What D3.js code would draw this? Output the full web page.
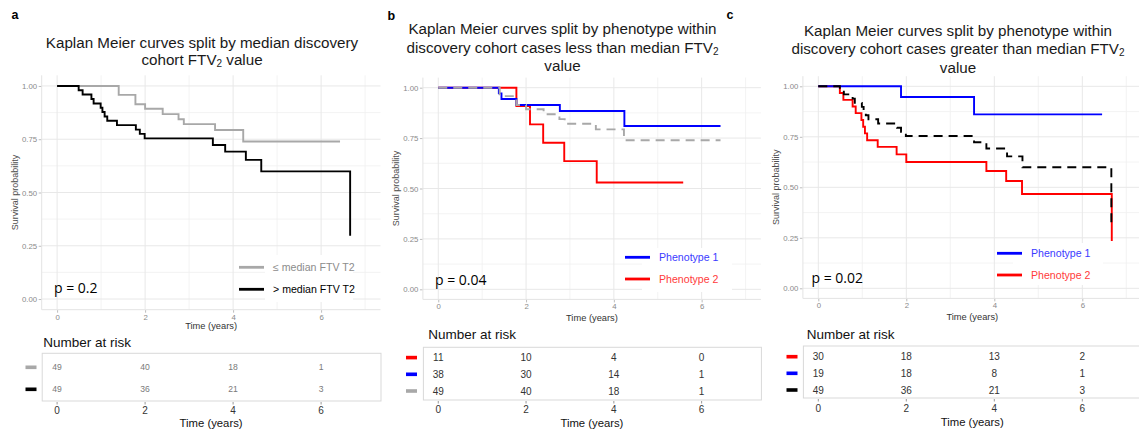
<!DOCTYPE html>
<html><head><meta charset="utf-8">
<script src="https://cdn.jsdelivr.net/npm/d3@7"></script>
<style>
html,body{margin:0;padding:0;background:#fff;}
svg{display:block;font-family:"Liberation Sans",Arial,sans-serif;}
</style></head>
<body>
<svg id="chart" width="1139" height="432"></svg>
<script>
// ---------- data ----------
const timeTicks = [0, 2, 4, 6];
const timeMinor = [1, 3, 5, 7];
const survTicks = [0, 0.25, 0.5, 0.75, 1];
const survMinor = [0.125, 0.375, 0.625, 0.875];

// <= median FTV T2 (all lower cases)
const belowTime = [0, 1.40, 1.78, 2.00, 2.40, 2.76, 2.88, 3.59, 4.23, 6.43];
const belowSurv = [1, 0.958, 0.914, 0.893, 0.868, 0.844, 0.821, 0.793, 0.739, 0.739];
// > median FTV T2 (all upper cases)
const aboveTime = [0, 0.49, 0.58, 0.78, 0.83, 0.99, 1.03, 1.08, 1.14, 1.36, 1.79, 1.88, 1.99, 3.54, 3.82, 4.29, 4.64, 6.66];
const aboveSurv = [1, 0.98, 0.96, 0.939, 0.918, 0.898, 0.878, 0.857, 0.837, 0.816, 0.795, 0.775, 0.754, 0.723, 0.692, 0.653, 0.599, 0.297];
// panel b: phenotypes within lower cases
const lowP1Time = [0, 1.38, 1.44, 1.78, 2.77, 4.24, 6.43];
const lowP1Surv = [1, 0.972, 0.944, 0.914, 0.884, 0.81, 0.81];
const lowP2Time = [0, 1.78, 2.09, 2.39, 2.87, 3.61, 5.58];
const lowP2Surv = [1, 0.909, 0.818, 0.727, 0.636, 0.53, 0.53];
// panel c: phenotypes within upper cases
const highP1Time = [0, 1.88, 3.54, 6.45];
const highP1Surv = [1, 0.947, 0.861, 0.861];
const highP2Time = [0, 0.49, 0.57, 0.78, 0.85, 0.98, 1.02, 1.06, 1.11, 1.35, 1.78, 2.00, 3.82, 4.27, 4.63, 6.67];
const highP2Surv = [1, 0.967, 0.933, 0.9, 0.867, 0.833, 0.8, 0.767, 0.733, 0.7, 0.663, 0.625, 0.581, 0.531, 0.467, 0.234];

// numbers at risk at times 0,2,4,6
const riskA_below = [49, 40, 18, 1];
const riskA_above = [49, 36, 21, 3];
const riskB_p2 = [11, 10, 4, 0];
const riskB_p1 = [38, 30, 14, 1];
const riskB_all = [49, 40, 18, 1];
const riskC_p2 = [30, 18, 13, 2];
const riskC_p1 = [19, 18, 8, 1];
const riskC_all = [49, 36, 21, 3];

const pValues = ["p = 0.2", "p = 0.04", "p = 0.02"];
const legendA = ["\u2264 median FTV T2", "> median FTV T2"];
const legendBC = ["Phenotype 1", "Phenotype 2"];

// ---------- drawing ----------
const svg = d3.select("#chart");
const GREY = "#a8a8a8", BLACK = "#000000", BLUE = "#0000ff", RED = "#ff0000";
const zip = (t, s) => t.map((d, i) => [d, s[i]]);

function titleLines(g, cx, lines) {
  lines.forEach(l => {
    const t = g.append("text").attr("x", cx).attr("y", l.y).attr("text-anchor", "middle")
      .attr("dominant-baseline", "central").attr("font-size", 15.2).attr("fill", "#1a1a1a");
    l.parts.forEach(p => {
      const ts = t.append("tspan").text(p.t);
      if (p.sub) ts.attr("font-size", 10).attr("dy", 4);
      if (p.after) ts.attr("dy", -4);
    });
  });
}

function drawPanel(cfg) {
  const g = svg.append("g");
  const x = d3.scaleLinear().domain([-0.35, 7.35]).range([cfg.left, cfg.right]);
  const y = d3.scaleLinear().domain([-0.05, 1.05]).range([cfg.bottom, cfg.top]);

  // grid
  g.selectAll(".gxm").data(timeMinor).join("line")
    .attr("x1", d => x(d)).attr("x2", d => x(d)).attr("y1", cfg.top).attr("y2", cfg.bottom)
    .attr("stroke", "#f0f0f0").attr("stroke-width", 0.8);
  g.selectAll(".gym").data(survMinor).join("line")
    .attr("y1", d => y(d)).attr("y2", d => y(d)).attr("x1", cfg.left).attr("x2", cfg.right)
    .attr("stroke", "#f0f0f0").attr("stroke-width", 0.8);
  g.selectAll(".gx").data(timeTicks).join("line")
    .attr("x1", d => x(d)).attr("x2", d => x(d)).attr("y1", cfg.top).attr("y2", cfg.bottom)
    .attr("stroke", "#e8e8e8").attr("stroke-width", 1);
  g.selectAll(".gy").data(survTicks).join("line")
    .attr("y1", d => y(d)).attr("y2", d => y(d)).attr("x1", cfg.left).attr("x2", cfg.right)
    .attr("stroke", "#e8e8e8").attr("stroke-width", 1);
  g.append("line").attr("x1", cfg.left).attr("x2", cfg.left).attr("y1", cfg.top).attr("y2", cfg.bottom)
    .attr("stroke", "#e3e3e3").attr("stroke-width", 1);
  g.append("line").attr("x1", cfg.left).attr("x2", cfg.right).attr("y1", cfg.bottom).attr("y2", cfg.bottom)
    .attr("stroke", "#e3e3e3").attr("stroke-width", 1);

  // axes
  const ya = g.append("g").attr("transform", `translate(${cfg.left - 0.5},0)`)
    .call(d3.axisLeft(y).tickValues(survTicks).tickFormat(d3.format(".2f")).tickSize(2.5).tickPadding(1.5));
  ya.select(".domain").remove();
  ya.selectAll("line").attr("stroke", "#bdbdbd");
  ya.selectAll("text").attr("font-size", 7.8).attr("fill", "#8a8a8a").attr("font-family", "Liberation Sans, Arial, sans-serif");
  const xa = g.append("g").attr("transform", `translate(0,${cfg.bottom + 0.5})`)
    .call(d3.axisBottom(x).tickValues(timeTicks).tickFormat(d3.format("d")).tickSize(2.5).tickPadding(1.5));
  xa.select(".domain").remove();
  xa.selectAll("line").attr("stroke", "#bdbdbd");
  xa.selectAll("text").attr("font-size", 7.8).attr("fill", "#8a8a8a").attr("font-family", "Liberation Sans, Arial, sans-serif");

  g.append("text").attr("transform", `translate(${cfg.ylabX},${(cfg.top + cfg.bottom) / 2}) rotate(-90)`)
    .attr("text-anchor", "middle").attr("dominant-baseline", "central")
    .attr("font-size", 9).attr("fill", "#4d4d4d").text("Survival probability");
  g.append("text").attr("x", (cfg.left + cfg.right) / 2).attr("y", cfg.xlabY)
    .attr("text-anchor", "middle").attr("dominant-baseline", "central")
    .attr("font-size", 9.3).attr("fill", "#333").text("Time (years)");

  // legend backing box
  g.append("rect").attr("x", cfg.legBox[0]).attr("y", cfg.legBox[1]).attr("width", cfg.legBox[2]).attr("height", cfg.legBox[3]).attr("fill", "#fff");

  // curves
  const line = d3.line().x(d => x(d[0])).y(d => y(d[1])).curve(d3.curveStepAfter);
  cfg.series.forEach(s => {
    g.append("path").attr("d", line(zip(s.t, s.s))).attr("fill", "none")
      .attr("stroke", s.color).attr("stroke-width", 1.9)
      .attr("stroke-dasharray", s.dash ? "9,6" : null);
  });

  // legend
  cfg.legend.forEach(l => {
    g.append("line").attr("x1", l.x1).attr("x2", l.x1 + 25).attr("y1", l.y).attr("y2", l.y)
      .attr("stroke", l.color).attr("stroke-width", 2.8);
    g.append("text").attr("x", l.x1 + 34).attr("y", l.y).attr("dominant-baseline", "central")
      .attr("font-size", 10.6).attr("fill", l.tcolor).text(l.label);
  });

  // p value
  g.append("text").attr("x", cfg.pPos[0]).attr("y", cfg.pPos[1]).attr("dominant-baseline", "central")
    .attr("font-size", 14).attr("fill", "#000").attr("font-family", "Open Sans, Liberation Sans, sans-serif").text(cfg.p);

  // panel letter
  g.append("text").attr("x", cfg.letter[1]).attr("y", cfg.letter[2]).attr("font-size", 12.5)
    .attr("font-weight", "bold").attr("fill", "#000").text(cfg.letter[0]);

  // title
  titleLines(g, cfg.titleX, cfg.title);

  // risk table
  const t = cfg.table;
  g.append("text").attr("x", t.labelX).attr("y", t.labelY).attr("dominant-baseline", "central")
    .attr("font-size", 13.5).attr("fill", "#111").text("Number at risk");
  g.append("rect").attr("x", cfg.left + 0.5).attr("y", t.top).attr("width", cfg.right - cfg.left).attr("height", t.bottom - t.top)
    .attr("fill", "#fff").attr("stroke", "#d9d9d9").attr("stroke-width", 1);
  t.rows.forEach((r, i) => {
    g.selectAll(null).data(r.values).join("text")
      .attr("x", (d, j) => x(timeTicks[j])).attr("y", t.rowY[i])
      .attr("text-anchor", "middle").attr("dominant-baseline", "central")
      .attr("font-size", t.numSize).attr("fill", t.numColor).text(d => d);
    g.append("rect").attr("x", t.dashX).attr("y", t.rowY[i] - 1.8).attr("width", 11).attr("height", 3.6).attr("fill", r.color);
  });
  g.selectAll(null).data(timeTicks).join("line")
    .attr("x1", d => x(d)).attr("x2", d => x(d)).attr("y1", t.bottom + 1).attr("y2", t.bottom + 3.5)
    .attr("stroke", "#999").attr("stroke-width", 1);
  g.selectAll(null).data(timeTicks).join("text")
    .attr("x", d => x(d)).attr("y", t.tickY).attr("text-anchor", "middle").attr("dominant-baseline", "central")
    .attr("font-size", 10).attr("fill", "#333").text(d => d);
  g.append("text").attr("x", (cfg.left + cfg.right) / 2).attr("y", t.titleY)
    .attr("text-anchor", "middle").attr("dominant-baseline", "central")
    .attr("font-size", 11.3).attr("fill", "#111").text("Time (years)");
}

drawPanel({
  left: 41.7, right: 380.5, top: 75.3, bottom: 309.7, ylabX: 15, xlabY: 325.5,
  series: [
    {t: belowTime, s: belowSurv, color: GREY},
    {t: aboveTime, s: aboveSurv, color: BLACK}
  ],
  legBox: [265, 255, 88, 47],
  legend: [
    {x1: 239, y: 267.3, color: GREY, tcolor: "#8c8c8c", label: legendA[0]},
    {x1: 239, y: 289.3, color: BLACK, tcolor: "#000", label: legendA[1]}
  ],
  p: pValues[0], pPos: [54, 287],
  letter: ["a", 11.5, 18.5],
  titleX: 202,
  title: [
    {y: 41.7, parts: [{t: "Kaplan Meier curves split by median discovery"}]},
    {y: 58.6, parts: [{t: "cohort FTV"}, {t: "2", sub: true}, {t: " value", after: true}]}
  ],
  table: {
    labelX: 43.3, labelY: 342.7, top: 353.3, bottom: 401, rowY: [367.3, 389.3], dashX: 25.5,
    numSize: 8.6, numColor: "#7a7a7a", tickY: 410.7, titleY: 422.6,
    rows: [{values: riskA_below, color: GREY}, {values: riskA_above, color: BLACK}]
  }
});

drawPanel({
  left: 422.9, right: 760.9, top: 77.6, bottom: 299.4, ylabX: 396, xlabY: 317.7,
  series: [
    {t: lowP2Time, s: lowP2Surv, color: RED},
    {t: lowP1Time, s: lowP1Surv, color: BLUE},
    {t: belowTime, s: belowSurv, color: GREY, dash: true}
  ],
  legBox: [642, 248, 90, 44],
  legend: [
    {x1: 625, y: 257.3, color: BLUE, tcolor: "#3b3bff", label: legendBC[0]},
    {x1: 625, y: 279, color: RED, tcolor: "#ff3b3b", label: legendBC[1]}
  ],
  p: pValues[1], pPos: [435, 279],
  letter: ["b", 387.5, 20],
  titleX: 562.5,
  title: [
    {y: 28.3, parts: [{t: "Kaplan Meier curves split by phenotype within"}]},
    {y: 46.7, parts: [{t: "discovery cohort cases less than median FTV"}, {t: "2", sub: true}]},
    {y: 65.2, parts: [{t: "value"}]}
  ],
  table: {
    labelX: 428.3, labelY: 334, top: 347.3, bottom: 400, rowY: [357.6, 374.3, 391], dashX: 406,
    numSize: 10, numColor: "#333", tickY: 409.5, titleY: 422.6,
    rows: [{values: riskB_p2, color: RED}, {values: riskB_p1, color: BLUE}, {values: riskB_all, color: GREY}]
  }
});

drawPanel({
  left: 802.9, right: 1141.7, top: 76.2, bottom: 298.4, ylabX: 776, xlabY: 316.7,
  series: [
    {t: highP2Time, s: highP2Surv, color: RED},
    {t: highP1Time, s: highP1Surv, color: BLUE},
    {t: aboveTime, s: aboveSurv, color: BLACK, dash: true}
  ],
  legBox: [1013, 243, 90, 42],
  legend: [
    {x1: 997, y: 253.3, color: BLUE, tcolor: "#3b3bff", label: legendBC[0]},
    {x1: 997, y: 275, color: RED, tcolor: "#ff3b3b", label: legendBC[1]}
  ],
  p: pValues[2], pPos: [811.5, 277],
  letter: ["c", 726.5, 19],
  titleX: 958,
  title: [
    {y: 30, parts: [{t: "Kaplan Meier curves split by phenotype within"}]},
    {y: 48.4, parts: [{t: "discovery cohort cases greater than median FTV"}, {t: "2", sub: true}]},
    {y: 66.8, parts: [{t: "value"}]}
  ],
  table: {
    labelX: 806.7, labelY: 334, top: 346, bottom: 398, rowY: [356.7, 373.3, 390], dashX: 786.5,
    numSize: 10, numColor: "#333", tickY: 408.3, titleY: 421.7,
    rows: [{values: riskC_p2, color: RED}, {values: riskC_p1, color: BLUE}, {values: riskC_all, color: BLACK}]
  }
});
</script>
</body></html>
